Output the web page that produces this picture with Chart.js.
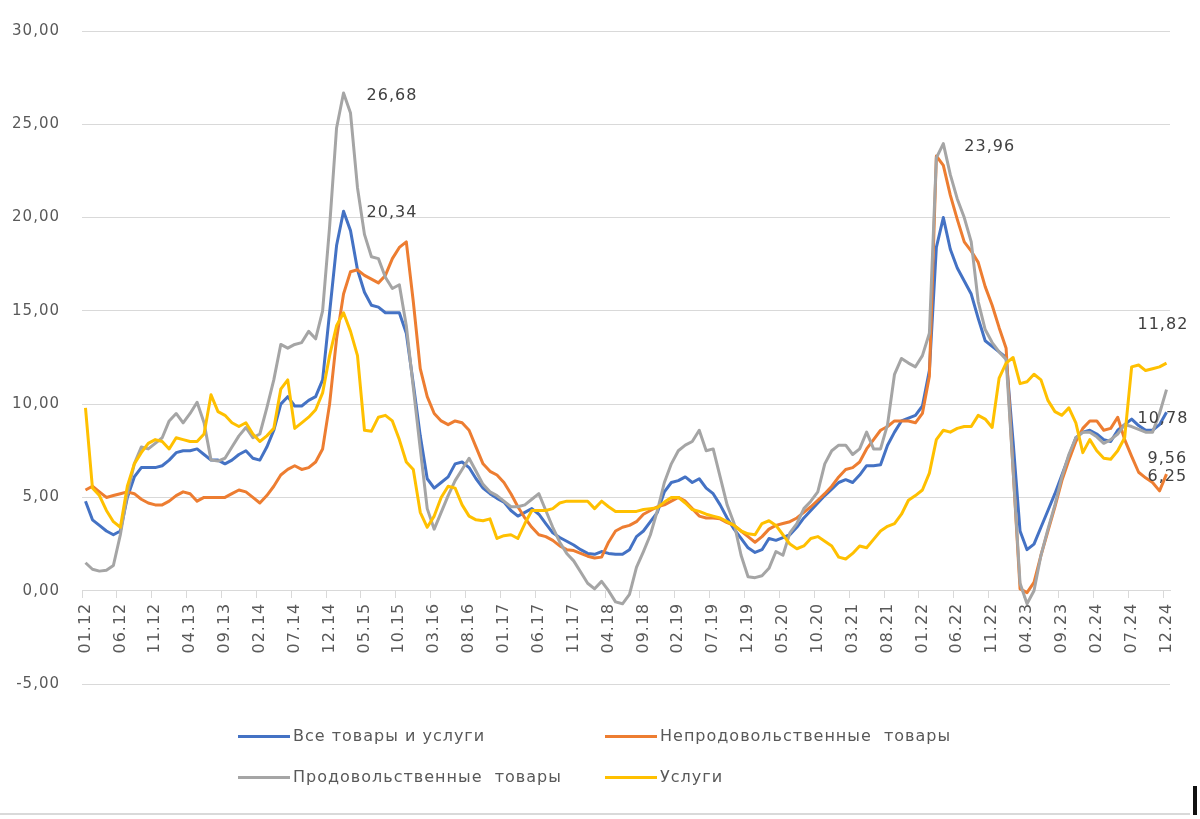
<!DOCTYPE html>
<html>
<head>
<meta charset="utf-8">
<script src="https://cdn.jsdelivr.net/npm/chart.js@4.4.1/dist/chart.umd.min.js"></script>
<style>
  html, body { margin: 0; padding: 0; background: #ffffff; }
  #wrap { position: relative; width: 1200px; height: 819px; overflow: hidden; background: #fff; }
  #c { position: absolute; left: 0; top: 0; }
  .lg { position: absolute; font-family: "DejaVu Sans", sans-serif; font-size: 16px; letter-spacing: 1px; color: #595959; white-space: pre; line-height: 18px; }
  .lg i { position: absolute; left: 0; top: 8px; width: 52px; height: 3px; }
  .lg span { position: absolute; left: 55px; top: 0; }
  #frameBottom { position: absolute; left: 0; top: 813px; width: 1190px; height: 2px; background: #d9d9d9; }
  #cursorMark { position: absolute; left: 1193px; top: 786px; width: 4px; height: 29px; background: #111; }
</style>
</head>
<body>
<div id="wrap">
  <canvas id="c" width="1200" height="819"></canvas>
  <div id="legend"></div>
  <div id="frameBottom"></div>
  <div id="cursorMark"></div>
</div>
<script>
// ---- categories (monthly, 01.12 .. 12.24) ----
const categories = [];
for (let y = 12; y <= 24; y++) {
  for (let m = 1; m <= 12; m++) categories.push(String(m).padStart(2, '0') + '.' + y);
}
// tick labels shown (every 5th month)
const tickLabels = ['01.12','06.12','11.12','04.13','09.13','02.14','07.14','12.14','05.15','10.15',
  '03.16','08.16','01.17','06.17','11.17','04.18','09.18','02.19','07.19','12.19','05.20','10.20',
  '03.21','08.21','01.22','06.22','11.22','04.23','09.23','02.24','07.24','12.24'];

const seriesNames = ['Все товары и услуги', 'Непродовольственные  товары', 'Продовольственные  товары', 'Услуги'];

// Все товары и услуги
const allGoods = [
  4.8,3.8,3.5,3.2,3.0,3.2,5.0,6.1,6.6,6.6,
  6.6,6.7,7.0,7.4,7.5,7.5,7.6,7.3,7.0,7.0,
  6.8,7.0,7.3,7.5,7.1,7.0,7.7,8.6,10.0,10.4,
  9.9,9.9,10.2,10.4,11.3,14.9,18.5,20.34,19.3,17.2,
  16.0,15.3,15.2,14.9,14.9,14.9,13.8,11.1,8.3,6.0,
  5.5,5.8,6.1,6.8,6.9,6.6,6.0,5.5,5.2,4.95,
  4.75,4.3,4.0,4.2,4.4,4.1,3.6,3.1,2.85,2.65,
  2.45,2.2,2.0,1.95,2.1,2.0,1.95,1.95,2.2,2.9,
  3.2,3.7,4.2,5.3,5.8,5.9,6.1,5.8,6.0,5.5,
  5.2,4.6,3.9,3.3,2.8,2.3,2.05,2.2,2.8,2.7,
  2.85,3.0,3.4,3.9,4.3,4.7,5.1,5.45,5.8,5.95,
  5.8,6.2,6.7,6.7,6.75,7.8,8.5,9.1,9.25,9.4,
  9.9,11.8,18.4,20.0,18.3,17.3,16.6,15.9,14.6,13.4,
  13.1,12.8,12.5,8.0,3.2,2.2,2.5,3.4,4.3,5.2,
  6.2,7.2,8.2,8.5,8.6,8.4,8.1,8.0,8.6,8.9,
  9.2,8.85,8.6,8.6,8.9,9.56
];
// Непродовольственные товары
const nonFood = [
  5.4,5.6,5.3,5.0,5.1,5.2,5.3,5.2,4.9,4.7,
  4.6,4.6,4.8,5.1,5.3,5.2,4.8,5.0,5.0,5.0,
  5.0,5.2,5.4,5.3,5.0,4.7,5.1,5.6,6.2,6.5,
  6.7,6.5,6.6,6.9,7.6,10.0,13.5,15.9,17.1,17.2,
  16.9,16.7,16.5,16.9,17.8,18.4,18.7,15.5,11.9,10.4,
  9.5,9.1,8.9,9.1,9.0,8.6,7.7,6.8,6.4,6.2,
  5.8,5.2,4.5,3.9,3.4,3.0,2.9,2.7,2.4,2.2,
  2.15,2.0,1.85,1.75,1.8,2.6,3.2,3.4,3.5,3.7,
  4.1,4.3,4.5,4.6,4.8,5.0,4.8,4.4,4.0,3.9,
  3.9,3.85,3.65,3.5,3.2,2.9,2.6,2.9,3.3,3.5,
  3.6,3.7,3.9,4.2,4.5,4.85,5.2,5.6,6.1,6.5,
  6.6,6.9,7.6,8.1,8.6,8.8,9.1,9.1,9.1,9.0,
  9.5,11.5,23.3,22.8,21.2,19.9,18.7,18.2,17.6,16.3,
  15.3,14.1,13.0,6.5,0.1,-0.1,0.45,1.9,3.2,4.5,
  5.9,7.0,8.0,8.7,9.1,9.1,8.6,8.7,9.3,8.1,
  7.2,6.35,6.05,5.8,5.35,6.25
];
// Продовольственные товары
const food = [
  1.5,1.15,1.05,1.1,1.35,3.0,5.2,6.8,7.7,7.6,
  7.9,8.2,9.1,9.5,9.0,9.5,10.1,9.0,7.0,6.95,
  7.1,7.7,8.3,8.75,8.2,8.4,9.8,11.3,13.2,13.0,
  13.2,13.3,13.9,13.5,15.0,19.5,24.8,26.68,25.6,21.6,
  19.1,17.9,17.8,16.8,16.2,16.4,14.2,10.9,7.6,4.4,
  3.3,4.2,5.1,5.9,6.5,7.1,6.4,5.7,5.3,5.1,
  4.8,4.5,4.5,4.6,4.9,5.2,4.3,3.4,2.6,2.0,
  1.6,1.0,0.4,0.1,0.5,0.0,-0.6,-0.7,-0.2,1.25,
  2.1,3.0,4.3,5.8,6.8,7.5,7.8,8.0,8.6,7.5,
  7.6,6.1,4.6,3.6,1.9,0.75,0.7,0.8,1.2,2.1,
  1.9,3.1,3.6,4.4,4.8,5.3,6.8,7.5,7.8,7.8,
  7.3,7.6,8.5,7.6,7.6,8.9,11.6,12.45,12.2,12.0,
  12.6,13.8,23.2,23.96,22.3,21.0,20.0,18.7,15.5,14.0,
  13.3,12.8,12.4,6.5,0.4,-0.7,0.0,1.9,3.3,4.6,
  6.1,7.3,8.2,8.5,8.5,8.25,7.9,8.1,8.4,8.9,
  8.8,8.65,8.5,8.5,9.5,10.78
];
// Услуги
const services = [
  9.8,5.5,5.1,4.3,3.7,3.4,5.6,6.8,7.4,7.9,
  8.1,8.0,7.6,8.2,8.1,8.0,8.0,8.4,10.5,9.6,
  9.4,9.0,8.8,9.0,8.4,8.0,8.3,8.7,10.8,11.3,
  8.7,9.0,9.3,9.7,10.6,12.6,14.2,14.9,13.9,12.6,
  8.6,8.55,9.3,9.4,9.1,8.1,6.9,6.5,4.2,3.4,
  4.0,5.0,5.6,5.5,4.6,4.0,3.8,3.75,3.85,2.8,
  2.95,3.0,2.8,3.6,4.3,4.3,4.3,4.4,4.7,4.8,
  4.8,4.8,4.8,4.4,4.8,4.5,4.25,4.25,4.25,4.25,
  4.35,4.4,4.45,4.75,5.0,5.0,4.7,4.35,4.25,4.1,
  4.0,3.9,3.7,3.5,3.2,3.05,3.0,3.6,3.75,3.5,
  3.0,2.5,2.25,2.4,2.8,2.9,2.65,2.4,1.8,1.7,
  2.0,2.4,2.3,2.75,3.2,3.45,3.6,4.1,4.85,5.1,
  5.4,6.3,8.1,8.6,8.5,8.7,8.8,8.8,9.4,9.2,
  8.75,11.4,12.2,12.5,11.1,11.2,11.6,11.3,10.2,9.6,
  9.4,9.8,9.0,7.4,8.1,7.5,7.1,7.05,7.5,8.2,
  12.0,12.1,11.8,11.9,12.0,12.2
];

const seriesColors = ['#4472C4', '#ED7D31', '#A5A5A5', '#FFC000'];

// value labels: [dataset index, point index, text]
const valueLabels = [
  [2, 37, '26,68'],
  [0, 37, '20,34'],
  [2, 123, '23,96'],
  [3, 155, '11,82'],
  [2, 155, '10,78'],
  [0, 155, '9,56'],
  [1, 155, '6,25']
];
// label placement offsets (pixels, relative to the point)
const labelOffsets = [[23, 3], [23, 2], [21, 3], [-29, -38], [-29, 29], [-19, 46], [-19, 3]];

const FONT = '"DejaVu Sans", sans-serif';
const SPACING = '1px';

const spacingPlugin = {
  id: 'letterSpacing',
  beforeUpdate(chart) { chart.ctx.letterSpacing = SPACING; },
  beforeDraw(chart) { chart.ctx.letterSpacing = SPACING; }
};

const labelPlugin = {
  id: 'valueLabels',
  afterDatasetsDraw(chart) {
    const ctx = chart.ctx;
    ctx.save();
    ctx.letterSpacing = SPACING;
    ctx.font = '16px ' + FONT;
    ctx.fillStyle = '#404040';
    ctx.textAlign = 'left';
    ctx.textBaseline = 'middle';
    valueLabels.forEach((l, k) => {
      const pt = chart.getDatasetMeta(l[0]).data[l[1]];
      ctx.fillText(l[2], pt.x + labelOffsets[k][0], pt.y + labelOffsets[k][1]);
    });
    ctx.restore();
  }
};

const seriesData = [allGoods, nonFood, food, services];
const orders = [4, 3, 2, 1];

new Chart(document.getElementById('c'), {
  type: 'line',
  data: {
    labels: categories,
    datasets: seriesData.map((d, k) => ({
      label: seriesNames[k],
      data: d,
      borderColor: seriesColors[k],
      backgroundColor: seriesColors[k],
      borderWidth: 3,
      pointRadius: 0,
      tension: 0,
      fill: false,
      borderJoinStyle: 'round',
      order: orders[k]
    }))
  },
  options: {
    responsive: false,
    animation: false,
    events: [],
    layout: { padding: { top: 27, right: 30, bottom: 135, left: 0 } },
    plugins: { legend: { display: false }, tooltip: { enabled: false } },
    scales: {
      x: {
        type: 'category',
        position: { y: 0 },
        offset: true,
        border: { display: true, color: '#d9d9d9', width: 1 },
        grid: {
          display: true,
          offset: true,
          drawOnChartArea: false,
          drawTicks: true,
          tickLength: 7,
          color: (c) => (c.index % 5 === 0 ? '#d9d9d9' : 'rgba(0,0,0,0)')
        },
        ticks: {
          autoSkip: false,
          maxRotation: 90,
          minRotation: 90,
          padding: 5,
          color: '#595959',
          font: { family: FONT, size: 16 },
          callback: (v, idx) => (idx % 5 === 0 ? tickLabels[idx / 5] : '')
        }
      },
      y: {
        min: -5,
        max: 30,
        border: { display: false },
        grid: { color: '#d9d9d9', drawTicks: false, lineWidth: 1 },
        afterFit: (s) => { s.width = 82; },
        ticks: {
          stepSize: 5,
          padding: 22,
          color: '#595959',
          font: { family: FONT, size: 15 },
          callback: (v) => v.toFixed(2).replace('.', ',')
        }
      }
    }
  },
  plugins: [spacingPlugin, labelPlugin]
});

// HTML legend (2 x 2 grid)
const legendPos = [[238, 727], [605, 727], [238, 768], [605, 768]];
const lg = document.getElementById('legend');
seriesNames.forEach((name, k) => {
  const d = document.createElement('div');
  d.className = 'lg';
  d.style.left = legendPos[k][0] + 'px';
  d.style.top = legendPos[k][1] + 'px';
  d.innerHTML = '<i style="background:' + seriesColors[k] + '"></i><span>' + name + '</span>';
  lg.appendChild(d);
});
</script>
</body>
</html>
